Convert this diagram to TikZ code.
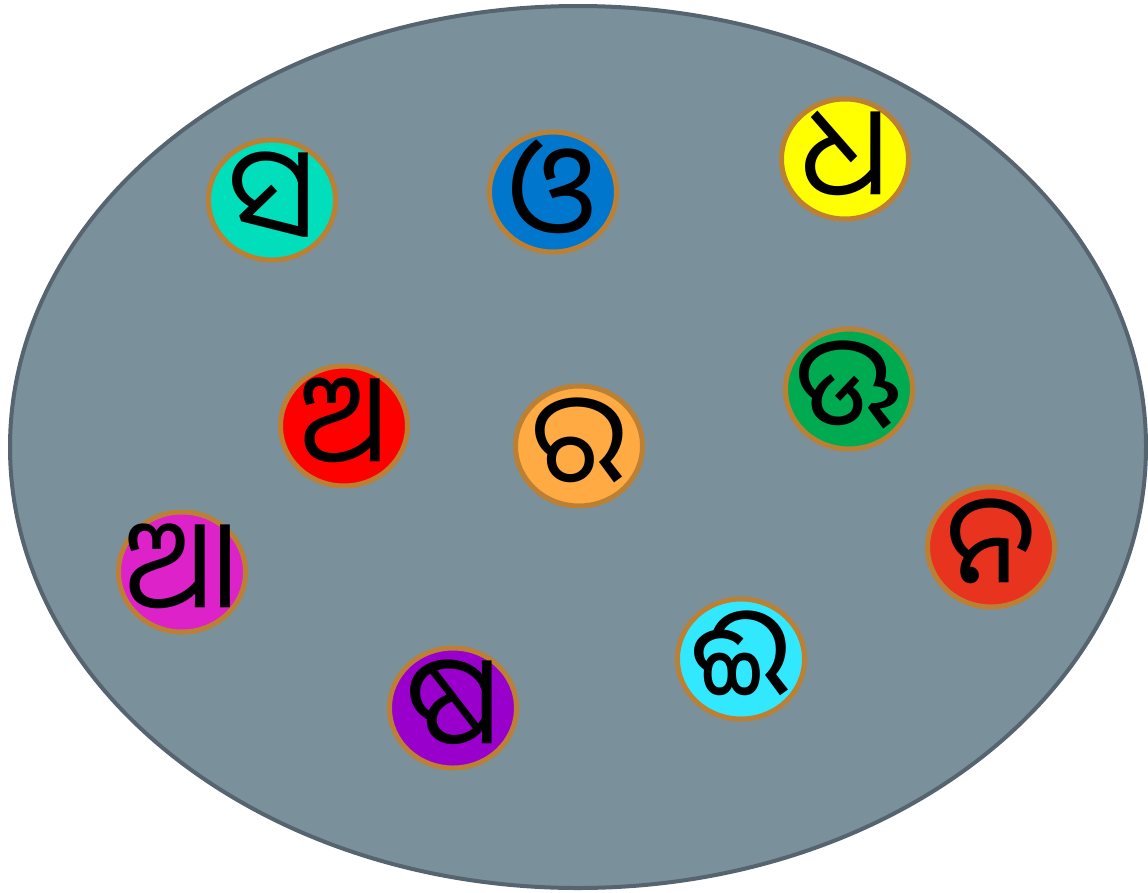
\documentclass[tikz,border=0pt]{standalone}
\usepackage{fontspec}
\usetikzlibrary{shapes.geometric}
\newfontfamily\odia[Script=Oriya]{Noto Sans Oriya UI}
\definecolor{poolfill}{RGB}{122,144,155}
\definecolor{pooledge}{RGB}{85,100,110}
\definecolor{ringedge}{RGB}{188,128,52}
\definecolor{cteal}{RGB}{0,222,187}
\definecolor{cblue}{RGB}{0,119,204}
\definecolor{cyellow}{RGB}{255,255,0}
\definecolor{cred}{RGB}{255,0,0}
\definecolor{corange}{RGB}{255,170,66}
\definecolor{cgreen}{RGB}{0,170,80}
\definecolor{cmagenta}{RGB}{220,34,200}
\definecolor{cvermil}{RGB}{232,52,30}
\definecolor{ccyan}{RGB}{50,232,255}
\definecolor{cpurple}{RGB}{153,0,204}
\begin{document}
\begin{tikzpicture}[x=1pt,y=-1pt,
  letter/.style={ellipse, draw=ringedge, line width=5pt, minimum width=127pt,
                 minimum height=120pt, inner sep=0pt},
  glyph/.style={inner sep=0pt, font=\odia\fontsize{126}{126}\selectfont}
]
\useasboundingbox (0,0) rectangle (1148,892);

% the pool
\node[ellipse, draw=pooledge, fill=poolfill, line width=4pt,
      minimum width=1136pt, minimum height=882pt, inner sep=0pt] (pool) at (578,447) {};

% letters
\node[letter, fill=cteal,    label={[glyph]center:ସ}] (sa)  at (272,200) {};
\node[letter, fill=cblue,    label={[glyph]center:ଓ}] (o)   at (553,192) {};
\node[letter, fill=cyellow,  label={[glyph]center:ଧ}] (dha) at (845,159) {};
\node[letter, fill=cred,     label={[glyph]center:ଅ}] (a)   at (344,426) {};
\node[letter, fill=corange,  label={[glyph]center:ର}] (ra)  at (579,446) {};
\node[letter, fill=cgreen,   label={[glyph]center:ଊ}] (uu)  at (849,389) {};
\node[letter, fill=cmagenta, label={[glyph]center:ଆ}] (aa)  at (182,572) {};
\node[letter, fill=cvermil,  label={[glyph]center:ନ}] (na)  at (991,547) {};
\node[letter, fill=ccyan,    label={[glyph]center:ଈ}] (ii)  at (741,659) {};
\node[letter, fill=cpurple,  label={[glyph]center:ଷ}] (ssa) at (453,708) {};
\end{tikzpicture}
\end{document}
